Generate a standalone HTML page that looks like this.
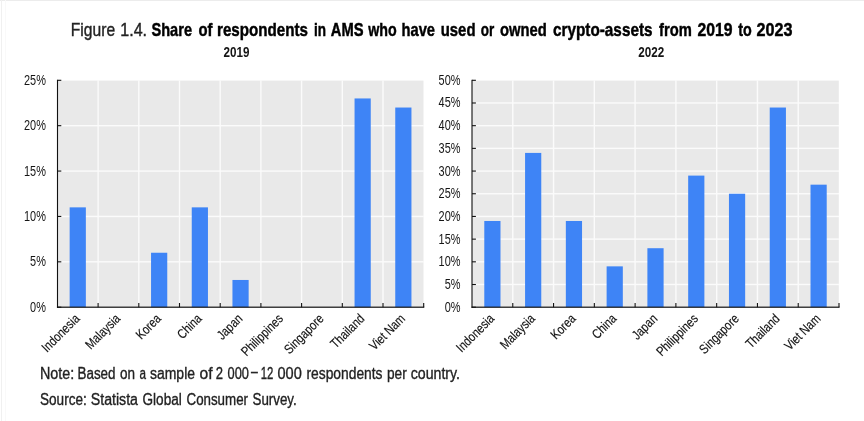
<!DOCTYPE html>
<html lang="en"><head><meta charset="utf-8"><title>Figure 1.4</title>
<style>
html,body{margin:0;padding:0;background:#fff;}
body{width:864px;height:421px;overflow:hidden;}
svg{display:block;font-family:"Liberation Sans",sans-serif;}
text{fill:#111;}
.n{font-size:13.33px;fill:#111;stroke:#111;stroke-width:0.15px;}
.y{font-size:14.67px;fill:#151515;}
.b{font-weight:bold;}
.s{stroke:#111;stroke-width:0.55px;}
.t{font-size:18.4px;fill:#222;stroke:#222;stroke-width:0.4px;}
.t .b{fill:#000;stroke:#000;stroke-width:0.45px;}
.f{font-size:16px;fill:#222;stroke:#222;stroke-width:0.35px;}
</style></head><body>
<svg width="864" height="421" viewBox="0 0 864 421">
<rect x="0" y="0" width="864" height="421" fill="#fff"/>
<rect x="0" y="0" width="864" height="1" fill="#ececec"/><rect x="1" y="0" width="1" height="421" fill="#f0f0f0"/><rect x="5" y="0" width="1" height="421" fill="#f9f9f9"/>
<text class="t" y="35.5"><tspan x="70.8" textLength="44.3" lengthAdjust="spacingAndGlyphs">Figure</tspan> <tspan x="120.3" textLength="26.8" lengthAdjust="spacingAndGlyphs">1.4.</tspan> <tspan class="b" x="151.5" textLength="40.5" lengthAdjust="spacingAndGlyphs">Share</tspan> <tspan class="b" x="198.5" textLength="14" lengthAdjust="spacingAndGlyphs">of</tspan> <tspan class="b" x="217" textLength="91" lengthAdjust="spacingAndGlyphs">respondents</tspan> <tspan class="b" x="314" textLength="12" lengthAdjust="spacingAndGlyphs">in</tspan> <tspan class="b" x="330.75" textLength="32.75" lengthAdjust="spacingAndGlyphs">AMS</tspan> <tspan class="b" x="368.25" textLength="28.5" lengthAdjust="spacingAndGlyphs">who</tspan> <tspan class="b" x="401.5" textLength="33.5" lengthAdjust="spacingAndGlyphs">have</tspan> <tspan class="b" x="440.75" textLength="34.75" lengthAdjust="spacingAndGlyphs">used</tspan> <tspan class="b" x="480.75" textLength="13.5" lengthAdjust="spacingAndGlyphs">or</tspan> <tspan class="b" x="500" textLength="46.75" lengthAdjust="spacingAndGlyphs">owned</tspan> <tspan class="b" x="553" textLength="99.5" lengthAdjust="spacingAndGlyphs">crypto-assets</tspan> <tspan class="b" x="659" textLength="32.75" lengthAdjust="spacingAndGlyphs">from</tspan> <tspan class="b" x="697.5" textLength="35" lengthAdjust="spacingAndGlyphs">2019</tspan> <tspan class="b" x="738.25" textLength="13.5" lengthAdjust="spacingAndGlyphs">to</tspan> <tspan class="b" x="756.5" textLength="36" lengthAdjust="spacingAndGlyphs">2023</tspan></text>
<rect x="57.4" y="80.6" width="366.1" height="226.6" fill="#e9e9e9"/>
<rect x="57.4" y="261.12" width="366.3" height="1.4" fill="#fbfbfb"/>
<rect x="57.4" y="215.74" width="366.3" height="1.4" fill="#fbfbfb"/>
<rect x="57.4" y="170.36" width="366.3" height="1.4" fill="#fbfbfb"/>
<rect x="57.4" y="124.98" width="366.3" height="1.4" fill="#fbfbfb"/>
<rect x="97.4" y="80.3" width="1.4" height="226.9" fill="#fbfbfb"/>
<rect x="138.1" y="80.3" width="1.4" height="226.9" fill="#fbfbfb"/>
<rect x="178.8" y="80.3" width="1.4" height="226.9" fill="#fbfbfb"/>
<rect x="219.5" y="80.3" width="1.4" height="226.9" fill="#fbfbfb"/>
<rect x="260.2" y="80.3" width="1.4" height="226.9" fill="#fbfbfb"/>
<rect x="300.9" y="80.3" width="1.4" height="226.9" fill="#fbfbfb"/>
<rect x="341.6" y="80.3" width="1.4" height="226.9" fill="#fbfbfb"/>
<rect x="382.3" y="80.3" width="1.4" height="226.9" fill="#fbfbfb"/>
<rect x="69.65" y="207.36" width="16.2" height="99.84" fill="#3e84f6"/>
<rect x="151.05" y="252.74" width="16.2" height="54.46" fill="#3e84f6"/>
<rect x="191.75" y="207.36" width="16.2" height="99.84" fill="#3e84f6"/>
<rect x="232.45" y="279.97" width="16.2" height="27.23" fill="#3e84f6"/>
<rect x="354.55" y="98.45" width="16.2" height="208.75" fill="#3e84f6"/>
<rect x="395.25" y="107.53" width="16.2" height="199.67" fill="#3e84f6"/>
<rect x="56.95" y="79.8" width="1.1" height="228" fill="#111"/>
<rect x="56.95" y="306.6" width="367.3" height="1.2" fill="#111"/>
<rect x="57.4" y="306.65" width="3.9" height="1.1" fill="#111"/>
<rect x="57.4" y="261.27" width="3.9" height="1.1" fill="#111"/>
<rect x="57.4" y="215.89" width="3.9" height="1.1" fill="#111"/>
<rect x="57.4" y="170.51" width="3.9" height="1.1" fill="#111"/>
<rect x="57.4" y="125.13" width="3.9" height="1.1" fill="#111"/>
<rect x="57.4" y="79.75" width="3.9" height="1.1" fill="#111"/>
<rect x="97.55" y="303" width="1.1" height="4.2" fill="#111"/>
<rect x="138.25" y="303" width="1.1" height="4.2" fill="#111"/>
<rect x="178.95" y="303" width="1.1" height="4.2" fill="#111"/>
<rect x="219.65" y="303" width="1.1" height="4.2" fill="#111"/>
<rect x="260.35" y="303" width="1.1" height="4.2" fill="#111"/>
<rect x="301.05" y="303" width="1.1" height="4.2" fill="#111"/>
<rect x="341.75" y="303" width="1.1" height="4.2" fill="#111"/>
<rect x="382.45" y="303" width="1.1" height="4.2" fill="#111"/>
<rect x="423.15" y="303" width="1.1" height="4.2" fill="#111"/>
<text class="y" text-anchor="end" transform="translate(45.9 311.7) scale(0.746 1)">0%</text>
<text class="y" text-anchor="end" transform="translate(45.9 266.32) scale(0.746 1)">5%</text>
<text class="y" text-anchor="end" transform="translate(45.9 220.94) scale(0.746 1)">10%</text>
<text class="y" text-anchor="end" transform="translate(45.9 175.56) scale(0.746 1)">15%</text>
<text class="y" text-anchor="end" transform="translate(45.9 130.18) scale(0.746 1)">20%</text>
<text class="y" text-anchor="end" transform="translate(45.9 84.8) scale(0.746 1)">25%</text>
<text class="n" text-anchor="end" transform="translate(80.45 319.5) rotate(-45) scale(0.82 1)">Indonesia</text>
<text class="n" text-anchor="end" transform="translate(121.15 319.5) rotate(-45) scale(0.82 1)">Malaysia</text>
<text class="n" text-anchor="end" transform="translate(161.85 319.5) rotate(-45) scale(0.82 1)">Korea</text>
<text class="n" text-anchor="end" transform="translate(202.55 319.5) rotate(-45) scale(0.82 1)">China</text>
<text class="n" text-anchor="end" transform="translate(243.25 319.5) rotate(-45) scale(0.82 1)">Japan</text>
<text class="n" text-anchor="end" transform="translate(283.95 319.5) rotate(-45) scale(0.82 1)">Philippines</text>
<text class="n" text-anchor="end" transform="translate(324.65 319.5) rotate(-45) scale(0.82 1)">Singapore</text>
<text class="n" text-anchor="end" transform="translate(365.35 319.5) rotate(-45) scale(0.82 1)">Thailand</text>
<text class="n" text-anchor="end" transform="translate(406.05 319.5) rotate(-45) scale(0.82 1)">Viet Nam</text>
<text class="y b" text-anchor="middle" transform="translate(236.5 56.9) scale(0.795 1)">2019</text>
<rect x="472" y="80.6" width="366.8" height="226.6" fill="#e9e9e9"/>
<rect x="472" y="283.81" width="367" height="1.4" fill="#fbfbfb"/>
<rect x="472" y="261.12" width="367" height="1.4" fill="#fbfbfb"/>
<rect x="472" y="238.43" width="367" height="1.4" fill="#fbfbfb"/>
<rect x="472" y="215.74" width="367" height="1.4" fill="#fbfbfb"/>
<rect x="472" y="193.05" width="367" height="1.4" fill="#fbfbfb"/>
<rect x="472" y="170.36" width="367" height="1.4" fill="#fbfbfb"/>
<rect x="472" y="147.67" width="367" height="1.4" fill="#fbfbfb"/>
<rect x="472" y="124.98" width="367" height="1.4" fill="#fbfbfb"/>
<rect x="472" y="102.29" width="367" height="1.4" fill="#fbfbfb"/>
<rect x="512.08" y="80.3" width="1.4" height="226.9" fill="#fbfbfb"/>
<rect x="552.86" y="80.3" width="1.4" height="226.9" fill="#fbfbfb"/>
<rect x="593.63" y="80.3" width="1.4" height="226.9" fill="#fbfbfb"/>
<rect x="634.41" y="80.3" width="1.4" height="226.9" fill="#fbfbfb"/>
<rect x="675.19" y="80.3" width="1.4" height="226.9" fill="#fbfbfb"/>
<rect x="715.97" y="80.3" width="1.4" height="226.9" fill="#fbfbfb"/>
<rect x="756.74" y="80.3" width="1.4" height="226.9" fill="#fbfbfb"/>
<rect x="797.52" y="80.3" width="1.4" height="226.9" fill="#fbfbfb"/>
<rect x="484.29" y="220.98" width="16.2" height="86.22" fill="#3e84f6"/>
<rect x="525.07" y="152.91" width="16.2" height="154.29" fill="#3e84f6"/>
<rect x="565.84" y="220.98" width="16.2" height="86.22" fill="#3e84f6"/>
<rect x="606.62" y="266.36" width="16.2" height="40.84" fill="#3e84f6"/>
<rect x="647.4" y="248.21" width="16.2" height="58.99" fill="#3e84f6"/>
<rect x="688.18" y="175.6" width="16.2" height="131.6" fill="#3e84f6"/>
<rect x="728.96" y="193.75" width="16.2" height="113.45" fill="#3e84f6"/>
<rect x="769.73" y="107.53" width="16.2" height="199.67" fill="#3e84f6"/>
<rect x="810.51" y="184.67" width="16.2" height="122.53" fill="#3e84f6"/>
<rect x="471.45" y="79.8" width="1.1" height="228" fill="#111"/>
<rect x="471.45" y="306.6" width="368.1" height="1.2" fill="#111"/>
<rect x="472" y="306.65" width="3.9" height="1.1" fill="#111"/>
<rect x="472" y="283.96" width="3.9" height="1.1" fill="#111"/>
<rect x="472" y="261.27" width="3.9" height="1.1" fill="#111"/>
<rect x="472" y="238.58" width="3.9" height="1.1" fill="#111"/>
<rect x="472" y="215.89" width="3.9" height="1.1" fill="#111"/>
<rect x="472" y="193.2" width="3.9" height="1.1" fill="#111"/>
<rect x="472" y="170.51" width="3.9" height="1.1" fill="#111"/>
<rect x="472" y="147.82" width="3.9" height="1.1" fill="#111"/>
<rect x="472" y="125.13" width="3.9" height="1.1" fill="#111"/>
<rect x="472" y="102.44" width="3.9" height="1.1" fill="#111"/>
<rect x="472" y="79.75" width="3.9" height="1.1" fill="#111"/>
<rect x="512.23" y="303" width="1.1" height="4.2" fill="#111"/>
<rect x="553.01" y="303" width="1.1" height="4.2" fill="#111"/>
<rect x="593.78" y="303" width="1.1" height="4.2" fill="#111"/>
<rect x="634.56" y="303" width="1.1" height="4.2" fill="#111"/>
<rect x="675.34" y="303" width="1.1" height="4.2" fill="#111"/>
<rect x="716.12" y="303" width="1.1" height="4.2" fill="#111"/>
<rect x="756.89" y="303" width="1.1" height="4.2" fill="#111"/>
<rect x="797.67" y="303" width="1.1" height="4.2" fill="#111"/>
<rect x="838.45" y="303" width="1.1" height="4.2" fill="#111"/>
<text class="y" text-anchor="end" transform="translate(460.5 311.7) scale(0.746 1)">0%</text>
<text class="y" text-anchor="end" transform="translate(460.5 289.01) scale(0.746 1)">5%</text>
<text class="y" text-anchor="end" transform="translate(460.5 266.32) scale(0.746 1)">10%</text>
<text class="y" text-anchor="end" transform="translate(460.5 243.63) scale(0.746 1)">15%</text>
<text class="y" text-anchor="end" transform="translate(460.5 220.94) scale(0.746 1)">20%</text>
<text class="y" text-anchor="end" transform="translate(460.5 198.25) scale(0.746 1)">25%</text>
<text class="y" text-anchor="end" transform="translate(460.5 175.56) scale(0.746 1)">30%</text>
<text class="y" text-anchor="end" transform="translate(460.5 152.87) scale(0.746 1)">35%</text>
<text class="y" text-anchor="end" transform="translate(460.5 130.18) scale(0.746 1)">40%</text>
<text class="y" text-anchor="end" transform="translate(460.5 107.49) scale(0.746 1)">45%</text>
<text class="y" text-anchor="end" transform="translate(460.5 84.8) scale(0.746 1)">50%</text>
<text class="n" text-anchor="end" transform="translate(495.09 319.5) rotate(-45) scale(0.82 1)">Indonesia</text>
<text class="n" text-anchor="end" transform="translate(535.87 319.5) rotate(-45) scale(0.82 1)">Malaysia</text>
<text class="n" text-anchor="end" transform="translate(576.64 319.5) rotate(-45) scale(0.82 1)">Korea</text>
<text class="n" text-anchor="end" transform="translate(617.42 319.5) rotate(-45) scale(0.82 1)">China</text>
<text class="n" text-anchor="end" transform="translate(658.2 319.5) rotate(-45) scale(0.82 1)">Japan</text>
<text class="n" text-anchor="end" transform="translate(698.98 319.5) rotate(-45) scale(0.82 1)">Philippines</text>
<text class="n" text-anchor="end" transform="translate(739.76 319.5) rotate(-45) scale(0.82 1)">Singapore</text>
<text class="n" text-anchor="end" transform="translate(780.53 319.5) rotate(-45) scale(0.82 1)">Thailand</text>
<text class="n" text-anchor="end" transform="translate(821.31 319.5) rotate(-45) scale(0.82 1)">Viet Nam</text>
<text class="y b" text-anchor="middle" transform="translate(651.3 56.9) scale(0.795 1)">2022</text>
<text class="f" y="378.7"><tspan x="40" textLength="34.25" lengthAdjust="spacingAndGlyphs">Note:</tspan> <tspan x="77.5" textLength="38" lengthAdjust="spacingAndGlyphs">Based</tspan> <tspan x="120" textLength="15" lengthAdjust="spacingAndGlyphs">on</tspan> <tspan x="139.5" textLength="6.5" lengthAdjust="spacingAndGlyphs">a</tspan> <tspan x="150" textLength="45" lengthAdjust="spacingAndGlyphs">sample</tspan> <tspan x="199.5" textLength="13" lengthAdjust="spacingAndGlyphs">of</tspan> <tspan x="215.75" textLength="7.25" lengthAdjust="spacingAndGlyphs">2</tspan> <tspan x="227.6" textLength="21.4" lengthAdjust="spacingAndGlyphs">000</tspan><tspan x="251.1" dy="-1.6" textLength="6.8" lengthAdjust="spacingAndGlyphs">–</tspan><tspan x="260.8" dy="1.6" textLength="12.6" lengthAdjust="spacingAndGlyphs">12</tspan> <tspan x="277.5" textLength="24.25" lengthAdjust="spacingAndGlyphs">000</tspan> <tspan x="306.5" textLength="76" lengthAdjust="spacingAndGlyphs">respondents</tspan> <tspan x="387" textLength="19.75" lengthAdjust="spacingAndGlyphs">per</tspan> <tspan x="410.75" textLength="49.25" lengthAdjust="spacingAndGlyphs">country.</tspan></text>
<text class="f" y="404.9"><tspan x="40" textLength="46.75" lengthAdjust="spacingAndGlyphs">Source:</tspan> <tspan x="90.75" textLength="47.25" lengthAdjust="spacingAndGlyphs">Statista</tspan> <tspan x="142.5" textLength="39.25" lengthAdjust="spacingAndGlyphs">Global</tspan> <tspan x="186.5" textLength="61.5" lengthAdjust="spacingAndGlyphs">Consumer</tspan> <tspan x="252.5" textLength="44.25" lengthAdjust="spacingAndGlyphs">Survey.</tspan></text>
</svg>
</body></html>
